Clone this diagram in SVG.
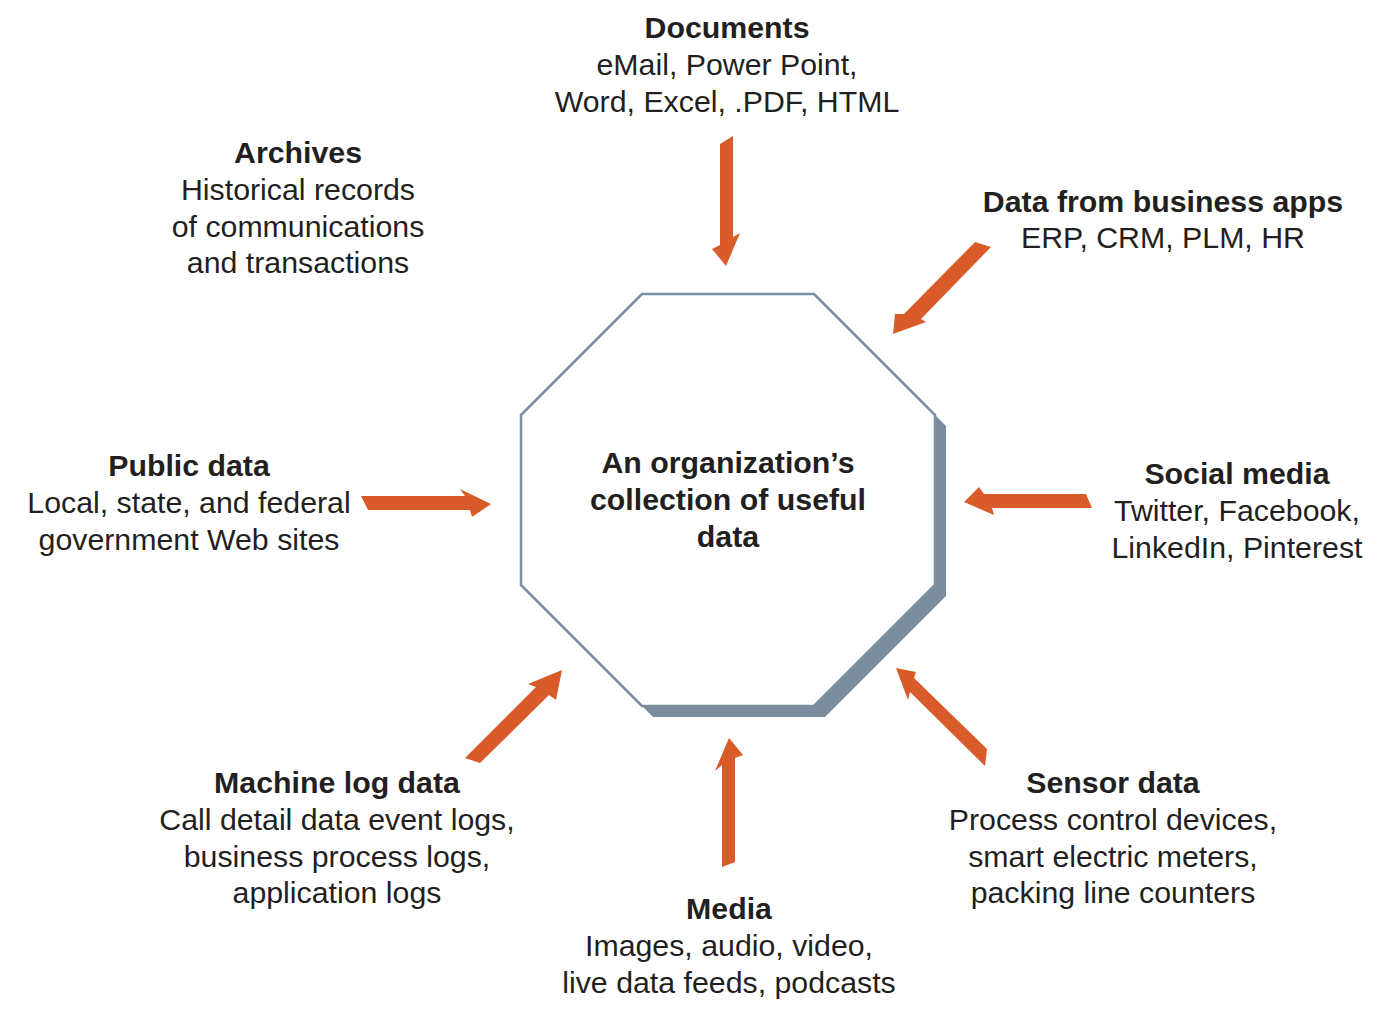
<svg xmlns="http://www.w3.org/2000/svg" width="1384" height="1018" viewBox="0 0 1384 1018">
<style>
text{font-family:"Liberation Sans",Arial,sans-serif;font-size:30.3px;fill:#231f20;text-anchor:middle}
.b{font-weight:bold}
.arrow{fill:#d95b2a}
.oct{fill:#ffffff;stroke:#7a8ea0;stroke-width:2.5}
.shadow{fill:#7b8c9e}
</style>
<rect width="1384" height="1018" fill="#ffffff"/>
<g id="center">
<polygon class="shadow" points="653,305 825,305 946,426 946,596 825,717 653,717 532,596 532,426"/>
<polygon class="oct" points="642,294 814,294 935,415 935,585 814,706 642,706 521,585 521,415"/>
<text class="b" x="728" y="473">An organization’s</text>
<text class="b" x="728" y="510">collection of useful</text>
<text class="b" x="728" y="547">data</text>
</g>
<g id="connectors">
<polygon class="arrow" points="720,144 733,136 733,237 740,233 726,266 712,249 720,245"/>
<polygon class="arrow" points="975,242 991,247 921,319 926,322 893,334 895,314 904,314"/>
<polygon class="arrow" points="361,496 465,496 460,489 491,504 472,517 470,510 368,510"/>
<polygon class="arrow" points="1086,494 1092,508 992,508 994,515 964,502 979,487 984,494"/>
<polygon class="arrow" points="465,758 536,687 528,684 562,670 556,700 549,695 480,763"/>
<polygon class="arrow" points="896,668 916,672 914,678 987,749 985,766 910,692 908,700"/>
<polygon class="arrow" points="729,738 743,755 735,758 735,862 722,867 722,765 715,771"/>
</g>
<g id="documents">
<text class="b" x="727" y="38">Documents</text>
<text x="727" y="75">eMail, Power Point,</text>
<text x="727" y="112">Word, Excel, .PDF, HTML</text>
</g>
<g id="archives">
<text class="b" x="298" y="163">Archives</text>
<text x="298" y="200">Historical records</text>
<text x="298" y="237">of communications</text>
<text x="298" y="273">and transactions</text>
</g>
<g id="business-apps">
<text class="b" x="1163" y="212">Data from business apps</text>
<text x="1163" y="248">ERP, CRM, PLM, HR</text>
</g>
<g id="public-data">
<text class="b" x="189" y="476">Public data</text>
<text x="189" y="513">Local, state, and federal</text>
<text x="189" y="550">government Web sites</text>
</g>
<g id="social-media">
<text class="b" x="1237" y="484">Social media</text>
<text x="1237" y="521">Twitter, Facebook,</text>
<text x="1237" y="558">LinkedIn, Pinterest</text>
</g>
<g id="machine-log">
<text class="b" x="337" y="793">Machine log data</text>
<text x="337" y="830">Call detail data event logs,</text>
<text x="337" y="867">business process logs,</text>
<text x="337" y="903">application logs</text>
</g>
<g id="sensor">
<text class="b" x="1113" y="793">Sensor data</text>
<text x="1113" y="830">Process control devices,</text>
<text x="1113" y="867">smart electric meters,</text>
<text x="1113" y="903">packing line counters</text>
</g>
<g id="media">
<text class="b" x="729" y="919">Media</text>
<text x="729" y="956">Images, audio, video,</text>
<text x="729" y="993">live data feeds, podcasts</text>
</g>
</svg>
